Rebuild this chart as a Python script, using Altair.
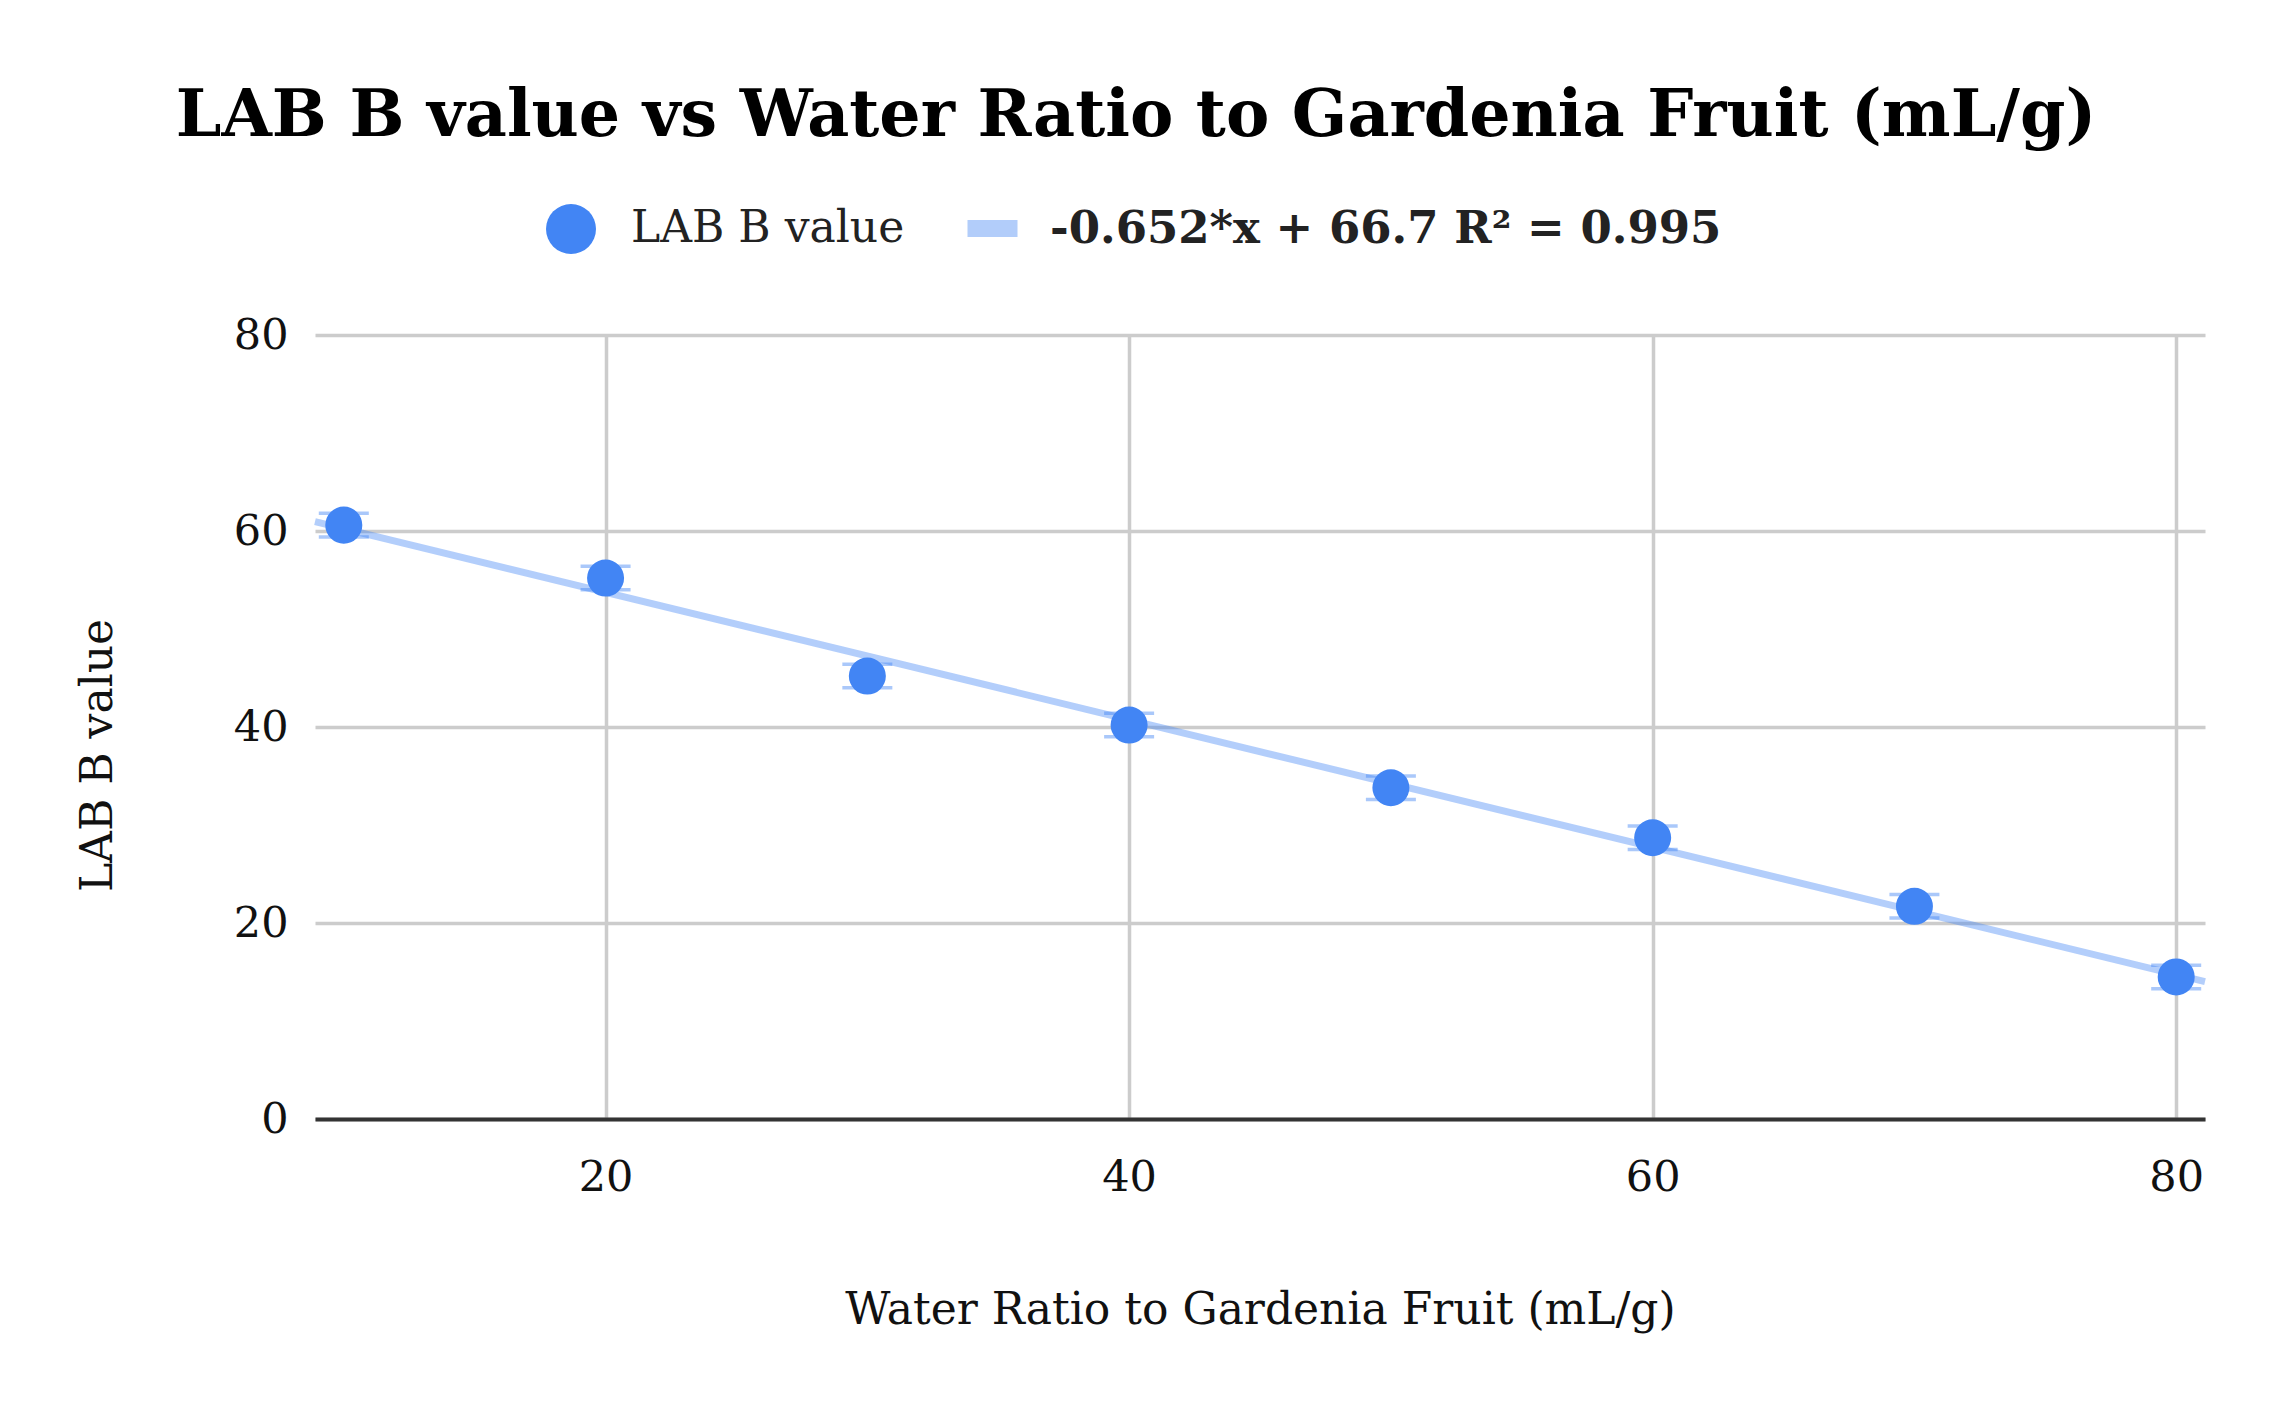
import altair as alt
import pandas as pd

X_VALUES = [10, 20, 30, 40, 50, 60, 70, 80]
LAB_B = [60.6, 55.2, 45.2, 40.2, 33.8, 28.7, 21.7, 14.5]
ERROR = [1.2, 1.2, 1.2, 1.2, 1.2, 1.2, 1.2, 1.2]
X_TICKS = [20, 40, 60, 80]
Y_TICKS = [0, 20, 40, 60, 80]
X_DOMAIN = [8.9, 81.1]
Y_DOMAIN = [0, 80]
SERIES = "LAB B value"
TREND_LABEL = "-0.652*x + 66.7 R\u00b2 = 0.995"
TITLE = "LAB B value vs Water Ratio to Gardenia Fruit (mL/g)"
X_TITLE = "Water Ratio to Gardenia Fruit (mL/g)"
Y_TITLE = "LAB B value"

df = pd.DataFrame({"x": X_VALUES, "y": LAB_B, "err": ERROR, "series": SERIES})

FONT = "DejaVu Serif"
BLUE = "#4285f4"
TXT = "#111111"

x_scale = alt.Scale(domain=X_DOMAIN, nice=False, zero=False)
y_scale = alt.Scale(domain=Y_DOMAIN, nice=False, zero=False)

x_axis = alt.Axis(
    values=X_TICKS, title=X_TITLE, grid=True, gridColor="#cccccc", gridWidth=3.5,
    domain=True, domainColor="#333333", domainWidth=4, ticks=False,
    labelFont=FONT, labelFontSize=43, labelColor=TXT, labelPadding=71,
    labelBaseline="alphabetic", titleFont=FONT, titleFontSize=44,
    titleFontWeight="normal", titleColor=TXT, titleY=204, titleBaseline="alphabetic",
)
y_axis = alt.Axis(
    values=Y_TICKS, title=Y_TITLE, grid=True, gridColor="#cccccc", gridWidth=3.5,
    domain=False, ticks=False, labelFont=FONT, labelFontSize=43, labelColor=TXT,
    labelPadding=27, titleFont=FONT, titleFontSize=44, titleFontWeight="normal",
    titleColor=TXT, titleX=-204, titleY=420, titleBaseline="alphabetic", titleAlign="center",
)

base = alt.Chart(df)

caps = base.transform_calculate(
    lo="datum.y - datum.err", hi="datum.y + datum.err"
).transform_fold(["lo", "hi"], as_=["side", "bound"]).mark_tick(
    orient="horizontal", size=50, thickness=3.5, color=BLUE, opacity=0.45
).encode(
    x=alt.X("x:Q", scale=x_scale, axis=x_axis),
    y=alt.Y("bound:Q", scale=y_scale, axis=y_axis),
)

trend = base.transform_regression(
    "x", "y", method="linear", extent=X_DOMAIN
).transform_calculate(series=f"'{TREND_LABEL}'").mark_line(
    strokeWidth=7, opacity=0.4
).encode(
    x=alt.X("x:Q", scale=x_scale, axis=x_axis),
    y=alt.Y("y:Q", scale=y_scale, axis=y_axis),
    stroke=alt.Stroke(
        "series:N",
        scale=alt.Scale(domain=[TREND_LABEL], range=[BLUE]),
        legend=alt.Legend(
            title=None, orient="none", legendX=644, legendY=-140, padding=0,
            symbolType="stroke", symbolSize=2500, symbolStrokeWidth=17,
            symbolOpacity=0.4, labelFont=FONT, labelFontSize=45,
            labelFontWeight="bold", labelColor="#222222", labelOffset=24,
            labelLimit=1200,
        ),
    ),
)

points = base.mark_circle(size=1370, opacity=1).encode(
    x=alt.X("x:Q", scale=x_scale, axis=x_axis),
    y=alt.Y("y:Q", scale=y_scale, axis=y_axis),
    fill=alt.Fill(
        "series:N",
        scale=alt.Scale(domain=[SERIES], range=[BLUE]),
        legend=alt.Legend(
            title=None, orient="none", legendX=231, legendY=-131, padding=0,
            symbolType="circle", symbolSize=2500, symbolStrokeWidth=0,
            labelFont=FONT, labelFontSize=44, labelColor="#222222",
            labelOffset=35, labelLimit=1200,
        ),
    ),
)

chart = alt.layer(caps, trend, points).properties(
    width=1890,
    height=784,
    padding={"left": 307, "top": 327, "right": 61, "bottom": 270},
    autosize=alt.AutoSizeParams(type="none"),
    title=alt.Title(
        TITLE, font=FONT, fontSize=65, fontWeight="bold", color="#000000",
        anchor="middle", offset=45, dx=-124,
    ),
    background="white",
).configure_view(stroke=None)

chart.save("out.html", embed_options={"renderer": "svg", "actions": False})
